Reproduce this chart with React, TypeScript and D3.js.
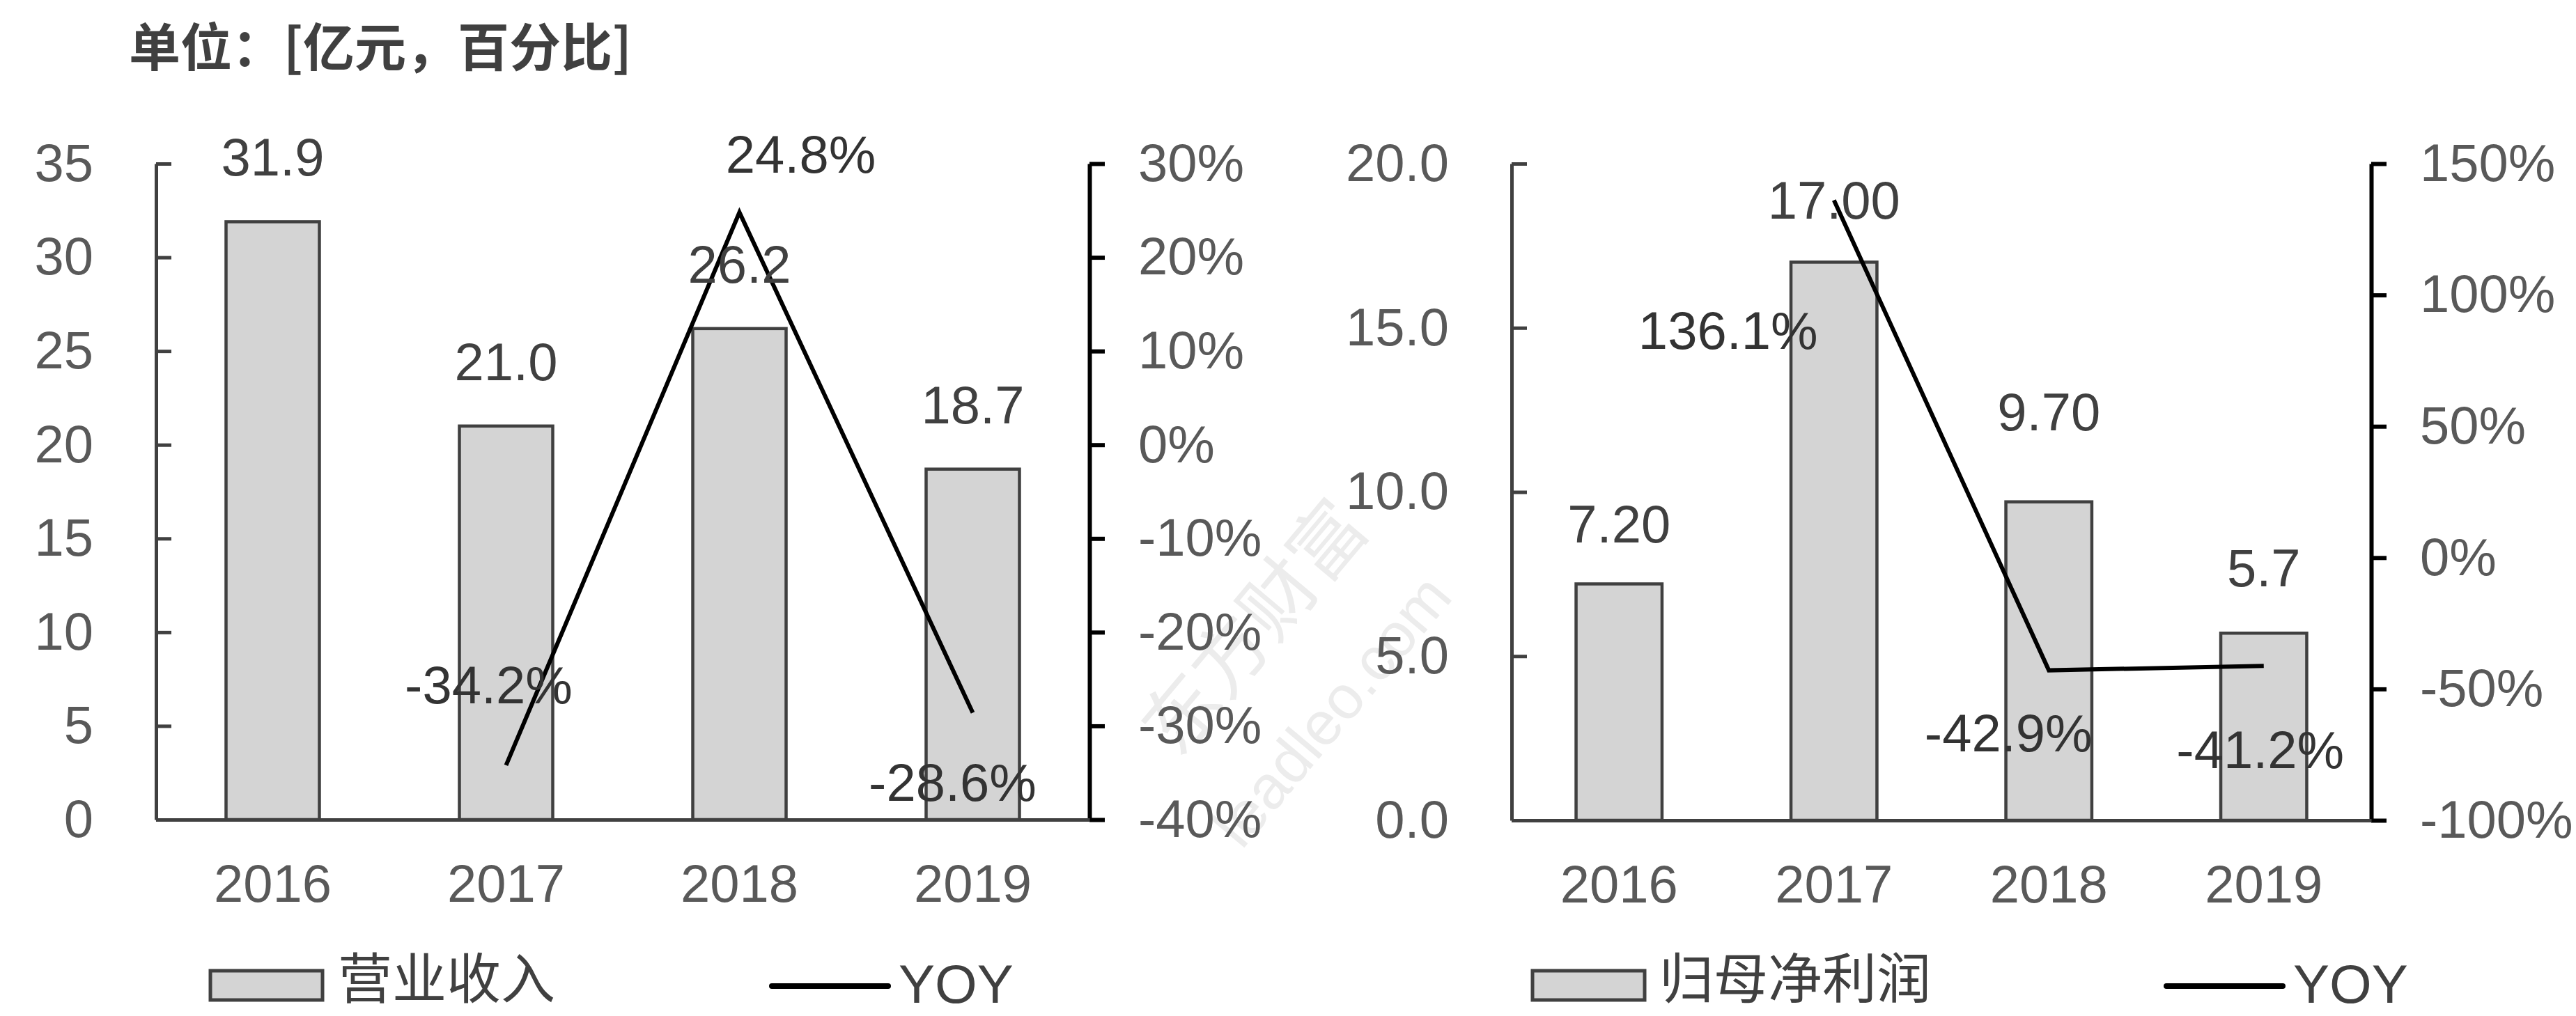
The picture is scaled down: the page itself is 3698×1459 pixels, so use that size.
import React, { useEffect, useRef } from 'react';
import * as d3 from 'd3';

const years = ['2016', '2017', '2018', '2019'];

// 左图：营业收入 + YOY
const revenue = [31.9, 21.0, 26.2, 18.7];
const revenueLabels = ['31.9', '21.0', '26.2', '18.7'];
const revenueYoy = [null, -34.2, 24.8, -28.6];
const revenueTicks = [0, 5, 10, 15, 20, 25, 30, 35];
const revenueYoyTicks = [-40, -30, -20, -10, 0, 10, 20, 30];

// 右图：归母净利润 + YOY
const netProfit = [7.2, 17.0, 9.7, 5.7];
const netProfitLabels = ['7.20', '17.00', '9.70', '5.7'];
const netProfitYoy = [null, 136.1, -42.9, -41.2];
const netProfitTicks = [0, 5, 10, 15, 20];
const netProfitYoyTicks = [-100, -50, 0, 50, 100, 150];

const W = 3698;
const H = 1459;
const FONT = "'Liberation Sans', Arial, sans-serif";
const CJK = "'Noto Sans CJK SC', 'Noto Sans', sans-serif";
const BAR_FILL = '#d4d4d4';
const DARK = '#404040';
const TICK_TEXT = '#595959';

const drawPanel = (svg, o) => {
  const g = svg.append('g');

  const x = d3.scaleBand().domain(years).range([o.x0, o.x1]).padding(0);
  const y = d3.scaleLinear().domain(o.barDomain).range([o.yBottom, o.yTop]);
  const y2 = d3.scaleLinear().domain(o.lineDomain).range([o.yBottom, o.yTop]);
  const bw = x.bandwidth() * 0.4;
  const cx = d => x(d) + x.bandwidth() / 2;

  // bars
  g.selectAll('.bar')
    .data(o.bars)
    .enter().append('rect')
    .attr('x', (d, i) => cx(years[i]) - bw / 2)
    .attr('y', d => y(d))
    .attr('width', bw)
    .attr('height', d => y(0) - y(d))
    .attr('fill', BAR_FILL)
    .attr('stroke', DARK)
    .attr('stroke-width', 4.5);

  // yoy line
  const pts = o.yoy.map((v, i) => ({ v, i })).filter(d => d.v !== null);
  g.append('path')
    .datum(pts)
    .attr('fill', 'none')
    .attr('stroke', '#000')
    .attr('stroke-width', 6)
    .attr('d', d3.line().x(d => cx(years[d.i])).y(d => y2(d.v)));

  // left axis, ticks pointing inward
  const la = g.append('g')
    .attr('transform', `translate(${o.x0},0)`)
    .call(d3.axisLeft(y).tickValues(o.barTicks).tickFormat(o.barFmt)
      .tickSizeInner(-22).tickSizeOuter(0).tickPadding(90));
  la.selectAll('path, line').attr('stroke', DARK).attr('stroke-width', 5);
  la.selectAll('text').attr('fill', TICK_TEXT).attr('font-size', 76).attr('font-family', FONT);

  // right axis
  const ra = g.append('g')
    .attr('transform', `translate(${o.x1},0)`)
    .call(d3.axisRight(y2).tickValues(o.lineTicks).tickFormat(d => `${d}%`)
      .tickSizeInner(22).tickSizeOuter(0).tickPadding(48));
  ra.selectAll('path, line').attr('stroke', '#000').attr('stroke-width', 6);
  ra.selectAll('text').attr('fill', TICK_TEXT).attr('font-size', 76).attr('font-family', FONT);

  // bottom axis
  const ba = g.append('g')
    .attr('transform', `translate(0,${o.yBottom})`)
    .call(d3.axisBottom(x).tickSize(0).tickPadding(64));
  ba.select('.domain').attr('stroke', DARK).attr('stroke-width', 5);
  ba.selectAll('text').attr('fill', TICK_TEXT).attr('font-size', 76).attr('font-family', FONT);

  // bar labels
  g.selectAll('.barlabel')
    .data(o.bars)
    .enter().append('text')
    .attr('x', (d, i) => cx(years[i]))
    .attr('y', (d, i) => y(d) + o.barLabelDy[i])
    .attr('text-anchor', 'middle')
    .attr('font-size', 76)
    .attr('font-family', FONT)
    .attr('fill', DARK)
    .text((d, i) => o.barLabels[i]);

  // yoy labels
  g.selectAll('.yoylabel')
    .data(pts)
    .enter().append('text')
    .attr('x', d => cx(years[d.i]) + o.yoyOffset[d.i][0])
    .attr('y', d => y2(d.v) + o.yoyOffset[d.i][1])
    .attr('text-anchor', 'middle')
    .attr('font-size', 76)
    .attr('font-family', FONT)
    .attr('fill', '#333')
    .text(d => `${d.v.toFixed(1)}%`);

  // legend
  const lg = g.append('g');
  lg.append('rect')
    .attr('x', o.legend.rectX).attr('y', 1394)
    .attr('width', 161).attr('height', 42)
    .attr('fill', BAR_FILL).attr('stroke', DARK).attr('stroke-width', 5);
  lg.append('text')
    .attr('x', o.legend.textX).attr('y', 1434)
    .attr('font-size', 78).attr('font-family', CJK).attr('fill', DARK)
    .text(o.legend.name);
  lg.append('line')
    .attr('x1', o.legend.lineX).attr('x2', o.legend.lineX + 167)
    .attr('y1', 1416).attr('y2', 1416)
    .attr('stroke', '#000').attr('stroke-width', 8).attr('stroke-linecap', 'round');
  lg.append('text')
    .attr('x', o.legend.lineX + 182).attr('y', 1440)
    .attr('font-size', 78).attr('font-family', FONT).attr('fill', DARK)
    .text('YOY');
};

const App = () => {
  const svgRef = useRef(null);

  useEffect(() => {
    const svg = d3.select(svgRef.current);
    svg.selectAll('*').remove();

    svg.append('rect').attr('width', W).attr('height', H).attr('fill', '#fff');

    // watermark
    const wm = svg.append('g').attr('fill', '#ececec').attr('font-family', CJK);
    wm.append('text')
      .attr('transform', 'translate(1830,925) rotate(-50)')
      .attr('text-anchor', 'middle').attr('font-size', 108)
      .text('东方财富');
    wm.append('text')
      .attr('transform', 'translate(1935,1040) rotate(-50)')
      .attr('text-anchor', 'middle').attr('font-size', 88).attr('font-family', FONT)
      .text('leadleo.com');

    svg.append('text')
      .attr('x', 185).attr('y', 95)
      .attr('font-size', 74).attr('font-weight', 'bold')
      .attr('font-family', CJK).attr('fill', DARK)
      .text('单位：[亿元，百分比]');

    drawPanel(svg, {
      x0: 224, x1: 1564, yTop: 235, yBottom: 1177,
      bars: revenue, barLabels: revenueLabels, yoy: revenueYoy,
      barDomain: [0, 35], barTicks: revenueTicks, barFmt: d3.format('d'),
      lineDomain: [-40, 30], lineTicks: revenueYoyTicks,
      barLabelDy: [-66, -66, -66, -66],
      yoyOffset: [[0, 0], [-25, -89], [88, -57], [-29, 126]],
      legend: { rectX: 302, textX: 485, lineX: 1108, name: '营业收入' },
    });

    drawPanel(svg, {
      x0: 2170, x1: 3404, yTop: 235, yBottom: 1178,
      bars: netProfit, barLabels: netProfitLabels, yoy: netProfitYoy,
      barDomain: [0, 20], barTicks: netProfitTicks, barFmt: d3.format('.1f'),
      lineDomain: [-100, 150], lineTicks: netProfitYoyTicks,
      barLabelDy: [-60, -62, -103, -67],
      yoyOffset: [[0, 0], [-152, 214], [-58, 116], [-5, 147]],
      legend: { rectX: 2200, textX: 2382, lineX: 3110, name: '归母净利润' },
    });
  }, []);

  return (
    <svg ref={svgRef} width={W} height={H}
      style={{ position: 'absolute', left: 0, top: 0, display: 'block' }} />
  );
};

export default App;
